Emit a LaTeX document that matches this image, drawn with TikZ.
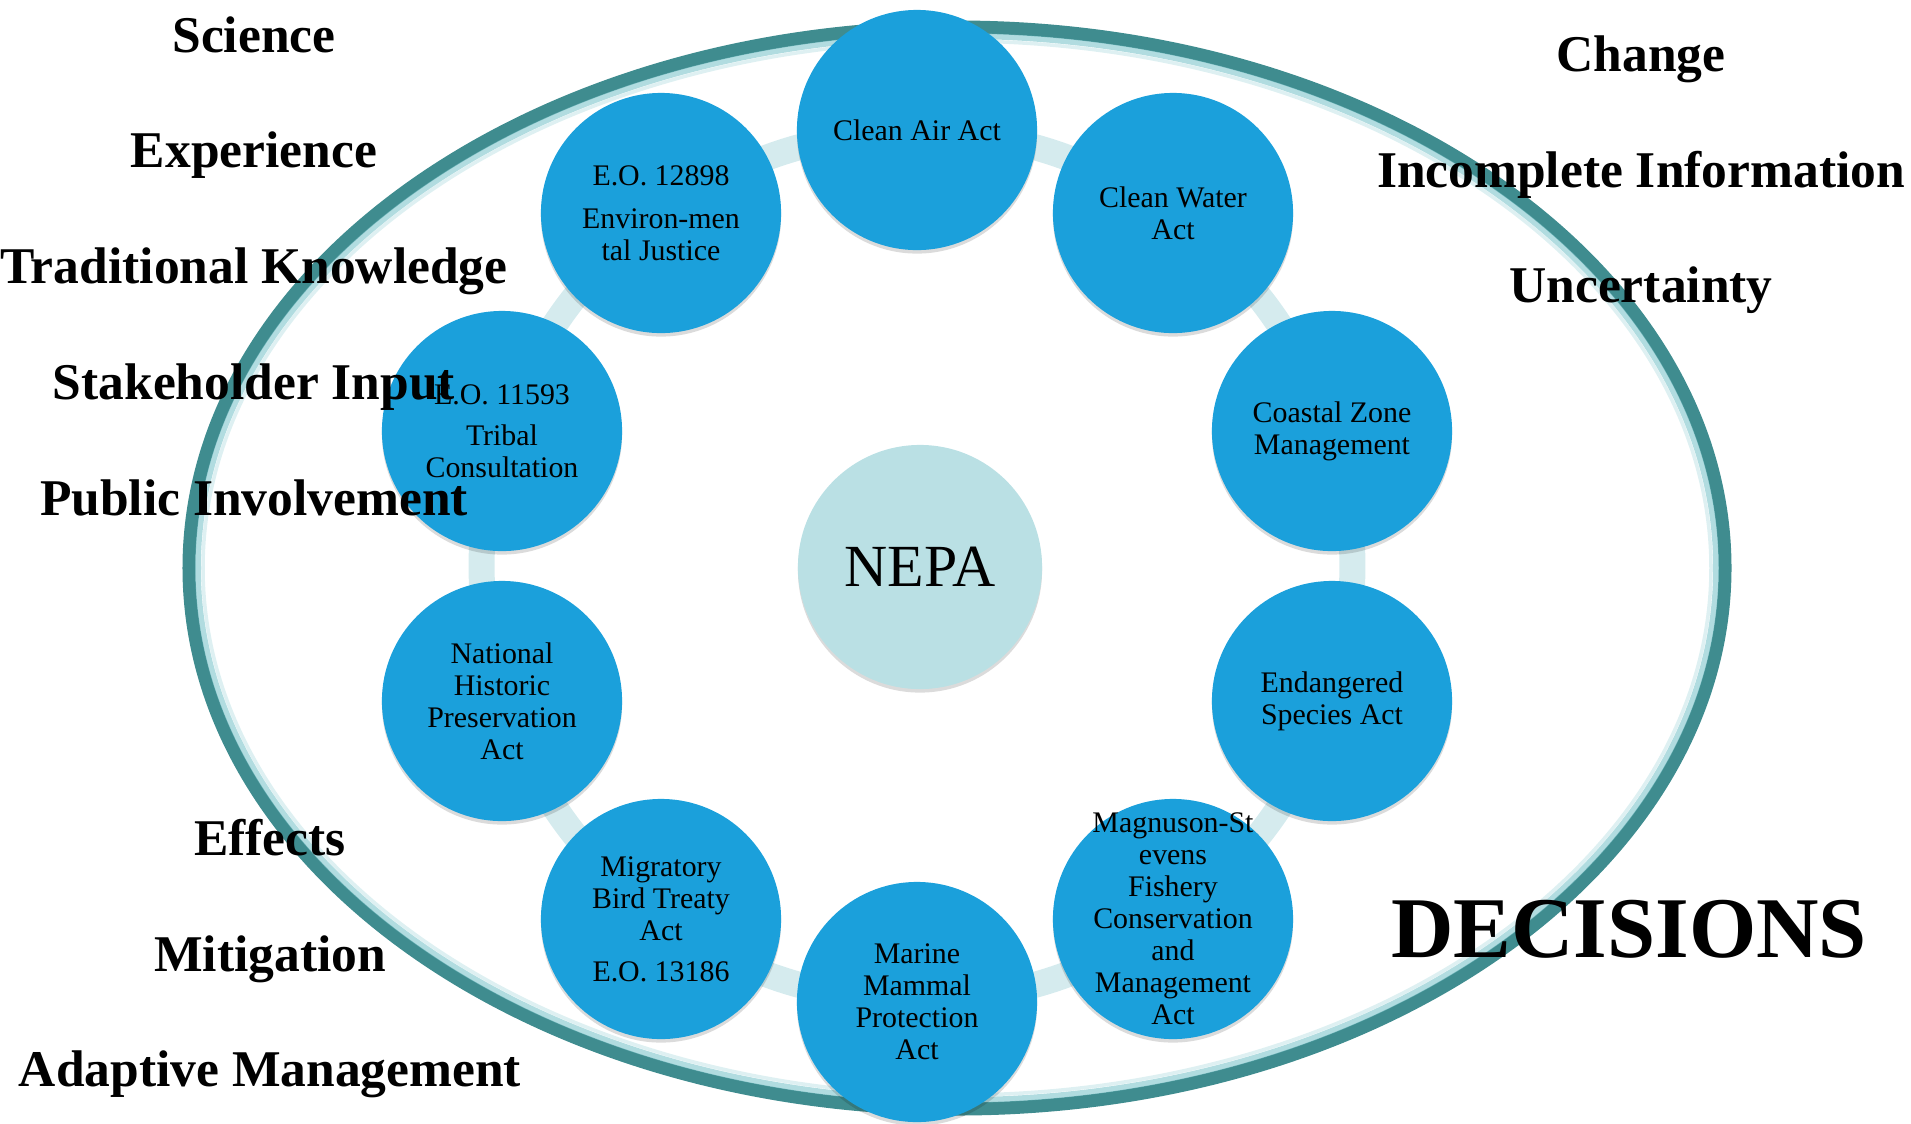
\documentclass[tikz,border=0pt]{standalone}
\usepackage{fontspec}
\setmainfont{Liberation Serif}
\usetikzlibrary{shadows,backgrounds}

\definecolor{lawblue}{RGB}{27,160,219}
\definecolor{hubteal}{RGB}{186,224,228}
\definecolor{rimteal}{RGB}{63,140,143}
\definecolor{glowteal}{RGB}{125,197,203}
\definecolor{ringpale}{RGB}{213,235,238}

\tikzset{law/.style={circle, fill=lawblue, minimum size=2.4cm, inner sep=-20pt, align=center, font=\fontsize{8.5}{9.1}\selectfont, drop shadow={shadow xshift=0pt, shadow yshift=-1pt, opacity=0.14, fill=black}}}
\tikzset{hub/.style={circle, fill=hubteal, minimum size=2.44cm, inner sep=0pt, font=\fontsize{17}{20}\selectfont, drop shadow={shadow xshift=0pt, shadow yshift=-1pt, opacity=0.14, fill=black}}}
\tikzset{factor/.style={anchor=base, inner sep=0pt, font=\fontsize{14.65}{17}\selectfont\bfseries}}
\tikzset{ringlink/.style={draw=ringpale, line width=7.4pt}}

\begin{document}
\begin{tikzpicture}[x=0.01cm, y=-0.01cm]
	\useasboundingbox (0,0) rectangle (1911,1123);

	\node[hub] (nepa) at (920,567) {NEPA};

	\node[law] (clean-air) at (917,130) {Clean Air Act};
	\node[law] (clean-water) at (1173,213) {Clean Water\\Act};
	\node[law] (coastal) at (1332,431) {Coastal Zone\\Management};
	\node[law] (endangered) at (1332,701) {Endangered\\Species Act};
	\node[law] (magnuson) at (1173,919) {Magnuson-St\\evens\\Fishery\\Conservation\\and\\Management\\Act};
	\node[law] (marine) at (917,1002) {Marine\\Mammal\\Protection\\Act};
	\node[law] (migratory) at (661,919) {Migratory\\Bird Treaty\\Act\\[2.5pt]E.O. 13186};
	\node[law] (historic) at (502,701) {National\\Historic\\Preservation\\Act};
	\node[law] (tribal) at (502,431) {E.O. 11593\\[2.5pt]Tribal\\Consultation};
	\node[law] (justice) at (661,213) {E.O. 12898\\[3pt]Environ-men\\tal Justice};

	\begin{pgfonlayer}{background}
		\draw[rimteal, line width=3.7pt] (957,568) ellipse [x radius=768, y radius=541];
		\draw[glowteal, line width=1.6pt, opacity=0.6] (957,568) ellipse [x radius=759, y radius=532];
		\draw[glowteal, line width=1pt, opacity=0.25] (957,568) ellipse [x radius=754, y radius=527];

		\draw[ringlink] (clean-air.center) to[bend left=15] (clean-water.center);
		\draw[ringlink] (clean-water.center) to[bend left=15] (coastal.center);
		\draw[ringlink] (coastal.center) to[bend left=15] (endangered.center);
		\draw[ringlink] (endangered.center) to[bend left=15] (magnuson.center);
		\draw[ringlink] (magnuson.center) to[bend left=15] (marine.center);
		\draw[ringlink] (marine.center) to[bend left=15] (migratory.center);
		\draw[ringlink] (migratory.center) to[bend left=15] (historic.center);
		\draw[ringlink] (historic.center) to[bend left=15] (tribal.center);
		\draw[ringlink] (tribal.center) to[bend left=15] (justice.center);
		\draw[ringlink] (justice.center) to[bend left=15] (clean-air.center);
	\end{pgfonlayer}

	\node[factor] (science) at (254,52) {Science};
	\node[factor] (experience) at (254,167) {Experience};
	\node[factor] (traditional) at (254,283) {Traditional Knowledge};
	\node[factor] (stakeholder) at (254,399) {Stakeholder Input};
	\node[factor] (public) at (254,515) {Public Involvement};

	\node[factor] (effects) at (270,855) {Effects};
	\node[factor] (mitigation) at (270,971) {Mitigation};
	\node[factor] (adaptive) at (270,1086) {Adaptive Management};

	\node[factor] (change) at (1641,71) {Change};
	\node[factor] (incomplete) at (1641,187) {Incomplete Information};
	\node[factor] (uncertainty) at (1641,302) {Uncertainty};

	\node[factor, font=\fontsize{24.6}{28}\selectfont\bfseries] (decisions) at (1629,957) {DECISIONS};
\end{tikzpicture}
\end{document}
